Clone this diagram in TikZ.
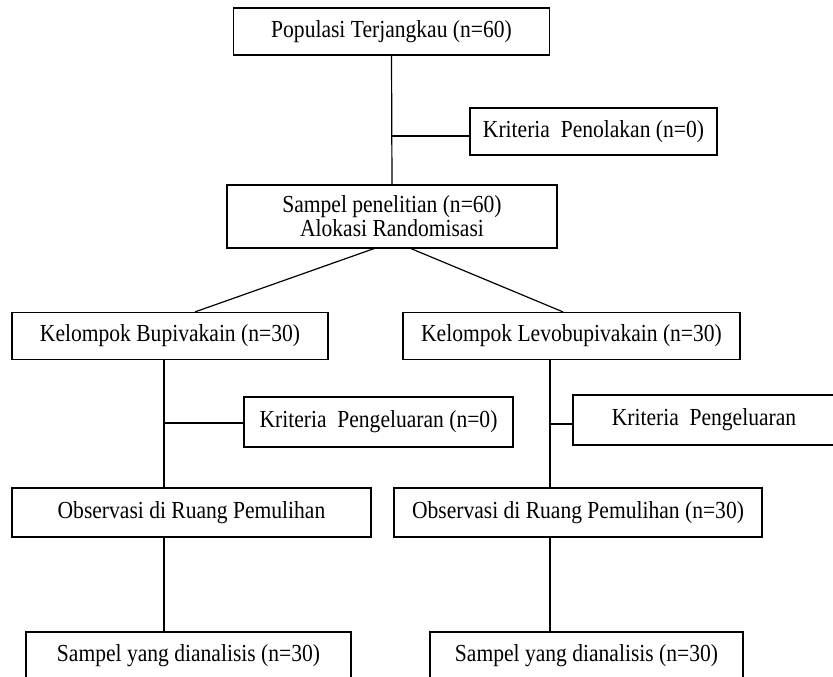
\documentclass[tikz,border=0pt]{standalone}
\usepackage{fontspec}
\setmainfont{Liberation Serif}[FakeStretch=0.88]
\usetikzlibrary{calc}

\tikzset{
  box/.style={draw, line width=1.2pt, inner sep=0pt, align=center,
    font=\fontsize{24.5}{25}\selectfont, minimum height=47pt},
  link/.style={line width=1.2pt}
}

\begin{document}
\begin{tikzpicture}[x=1pt, y=-1pt]
        \useasboundingbox (0,0) rectangle (833,677);
        \clip (0,0) rectangle (833,677);

        % the boxes of the flow
        \node[box, minimum width=316pt] (pop) at (391.5,31.5) {Populasi Terjangkau (n=60)};
        \node[box, minimum width=247pt] (tolak) at (593.5,131.5) {Kriteria\ \ Penolakan (n=0)};
        \node[box, minimum width=330pt, minimum height=63pt] (sampel) at (392,216.5)
          {Sampel penelitian (n=60)\\[-1pt] Alokasi Randomisasi};
        \node[box, minimum width=316pt, minimum height=47pt] (bupi) at (170,336) {Kelompok Bupivakain (n=30)};
        \node[box, minimum width=337pt, minimum height=47pt] (levo) at (571.5,336) {Kelompok Levobupivakain (n=30)};
        \node[box, minimum width=269pt, minimum height=50pt] (keluarA) at (378.5,422) {Kriteria\ \ Pengeluaran (n=0)};
        \node[box, minimum width=262pt, minimum height=50pt] (keluarB) at (704,420) {Kriteria\ \ Pengeluaran};
        \node[box, minimum width=359pt, minimum height=49pt] (obsA) at (191.5,512.5) {Observasi di Ruang Pemulihan};
        \node[box, minimum width=368pt, minimum height=49pt] (obsB) at (578,512.5) {Observasi di Ruang Pemulihan (n=30)};
        \node[box, minimum width=325pt, minimum height=47pt] (analA) at (188.5,655.5) {Sampel yang dianalisis (n=30)};
        \node[box, minimum width=313pt, minimum height=47pt] (analB) at (586.5,655.5) {Sampel yang dianalisis (n=30)};

        % the trunks and their side branches
        \coordinate (j1) at (391.5,136);
        \coordinate (tA) at (164,423);
        \coordinate (tB) at (550,424);
        \draw[link] (pop.south) -- (sampel.north);
        \draw[link] (j1) -- (j1 -| tolak.west);
        \draw[link] (bupi.south -| tA) -- (obsA.north -| tA);
        \draw[link] (tA) -- (tA -| keluarA.west);
        \draw[link] (levo.south -| tB) -- (obsB.north -| tB);
        \draw[link] (tB) -- (tB -| keluarB.west);
        \draw[link] (obsA.south -| tA) -- (analA.north -| tA);
        \draw[link] (obsB.south -| tB) -- (analB.north -| tB);

        % the randomisation split
        \draw[link] ($(sampel.south)+(-18,0)$) -- ($(bupi.north)+(25,0)$);
        \draw[link] ($(sampel.south)+(19,0)$) -- ($(levo.north)+(-8.5,0)$);
\end{tikzpicture}
\end{document}
